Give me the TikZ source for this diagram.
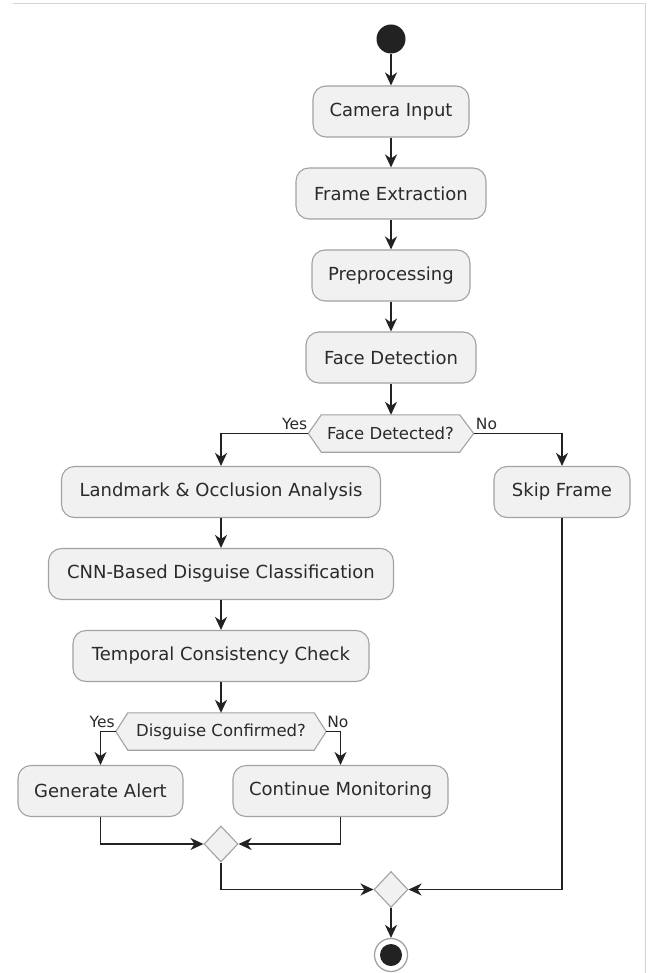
\documentclass[tikz,border=0pt]{standalone}
\usepackage{fontspec}
\setmainfont{DejaVu Sans}
\usetikzlibrary{arrows.meta,calc,shapes.geometric}
\definecolor{boxfill}{HTML}{F1F1F1}
\definecolor{boxline}{HTML}{A2A2A2}
\definecolor{lin}{HTML}{222222}
\definecolor{txt}{HTML}{2A2A2A}
\definecolor{framegray}{HTML}{D4D4D4}
\begin{document}
\begin{tikzpicture}[x=1pt,y=-1pt,
  act/.style={draw=boxline, fill=boxfill, rounded corners=13pt, line width=1.1pt,
    minimum height=51pt, inner sep=0pt, font=\fontsize{18}{21}\selectfont, text=txt},
  hexnode/.style={minimum height=37pt, inner sep=0pt, font=\fontsize{16.5}{19}\selectfont, text=txt},
  hexline/.style={draw=boxline, fill=boxfill, line width=1.1pt},
  lbl/.style={font=\fontsize{15.5}{18}\selectfont, text=txt, inner sep=0pt},
  merge/.style={diamond, draw=boxline, fill=boxfill, line width=1.1pt, minimum width=34pt, minimum height=36pt, inner sep=0pt},
  flow/.style={draw=lin, line width=1.4pt, -{Stealth[length=13pt,width=12pt,inset=4pt]}}
]
\useasboundingbox (0,0) rectangle (649,973);
\draw[framegray, line width=1pt] (13,4) -- (645,4) -- (645,973);

% start
\node[circle, fill=lin, minimum size=29pt, inner sep=0pt] (start) at (391,39) {};

% main column
\node[act, minimum width=156pt] (cam) at (391,111.5) {Camera Input};
\node[act, minimum width=190pt] (fe) at (391,193.5) {Frame Extraction};
\node[act, minimum width=158pt] (pp) at (391,275.5) {Preprocessing};
\node[act, minimum width=170pt] (fdet) at (391,357.5) {Face Detection};

% decision 1
\node[hexnode, minimum width=138pt] (fd) at (390.5,433.5) {Face Detected?};
\coordinate (fdL) at ($(fd.west)+(-13,0)$);
\coordinate (fdR) at ($(fd.east)+(14,0)$);
\draw[hexline] (fd.north west) -- (fd.north east) -- (fdR) -- (fd.south east) -- (fd.south west) -- (fdL) -- cycle;
\node[hexnode] at (fd) {Face Detected?};
\node[lbl, anchor=base east] at ($(fdL)+(-1,-4)$) {Yes};
\node[lbl, anchor=base west] at ($(fdR)+(2,-4)$) {No};

% left branch
\node[act, minimum width=319pt] (lm) at (221,492) {Landmark \& Occlusion Analysis};
\node[act, minimum width=345pt] (cnn) at (221,574) {CNN-Based Disguise Classification};
\node[act, minimum width=296pt] (tc) at (221,656) {Temporal Consistency Check};

% right branch
\node[act, minimum width=136pt] (skip) at (562,492) {Skip Frame};

% decision 2
\node[hexnode, minimum width=186pt] (dc) at (221,731.5) {Disguise Confirmed?};
\coordinate (dcL) at ($(dc.west)+(-12,0)$);
\coordinate (dcR) at ($(dc.east)+(12,0)$);
\draw[hexline] (dc.north west) -- (dc.north east) -- (dcR) -- (dc.south east) -- (dc.south west) -- (dcL) -- cycle;
\node[hexnode] at (dc) {Disguise Confirmed?};
\node[lbl, anchor=base east] at ($(dcL)+(-1,-4)$) {Yes};
\node[lbl, anchor=base west] at ($(dcR)+(1,-4)$) {No};

\node[act, minimum width=165pt] (ga) at (100.5,791) {Generate Alert};
\node[act, minimum width=215pt] (cm) at (340.5,791) {Continue Monitoring};

% merges
\node[merge] (m1) at (221,844) {};
\node[merge] (m2) at (391,889.5) {};

% end
\node[circle, draw=boxline, fill=white, line width=1.3pt, minimum size=33pt, inner sep=0pt] (end) at (391,955) {};
\fill[lin] (end.center) circle (11pt);

% connectors
\draw[flow] (start) -- (cam);
\draw[flow] (cam) -- (fe);
\draw[flow] (fe) -- (pp);
\draw[flow] (pp) -- (fdet);
\draw[flow] (fdet) -- (fd.north -| fdet);
\draw[flow] (fdL) -| (lm.north);
\draw[flow] (fdR) -| (skip.north);
\draw[flow] (lm) -- (cnn);
\draw[flow] (cnn) -- (tc);
\draw[flow] (tc) -- (dc.north -| tc);
\draw[flow] (dcL) -| (ga.north);
\draw[flow] (dcR) -| (cm.north);
\draw[flow] (ga.south) |- (m1.west);
\draw[flow] (cm.south) |- (m1.east);
\draw[flow] (m1.south) |- (m2.west);
\draw[flow] (skip.south) |- (m2.east);
\draw[flow] (m2) -- (end);
\end{tikzpicture}
\end{document}
